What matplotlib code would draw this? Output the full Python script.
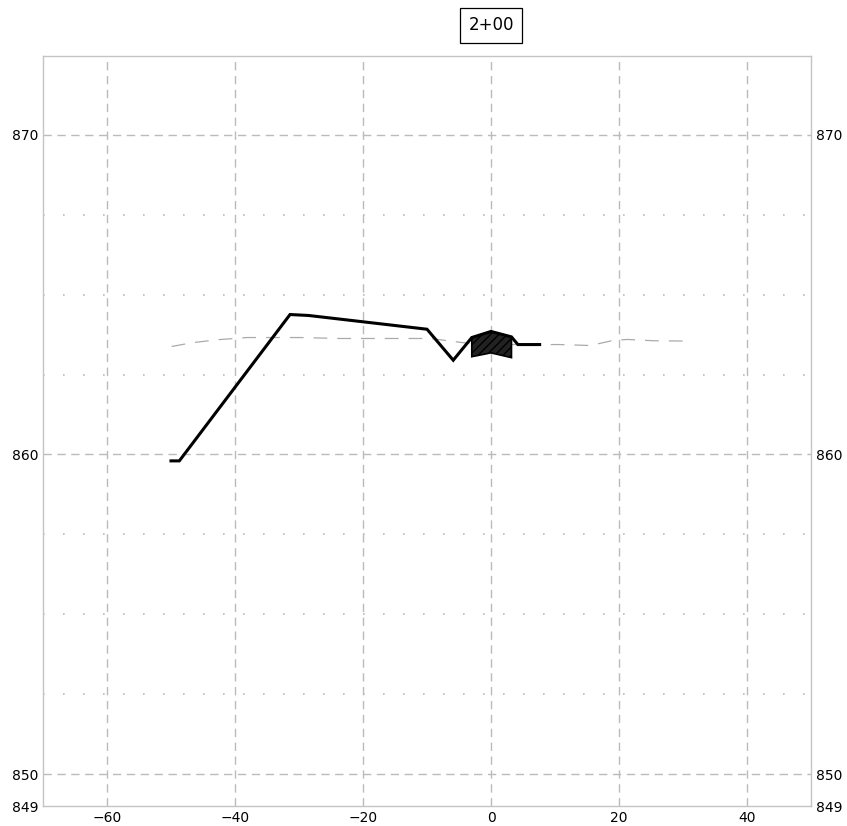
import matplotlib
matplotlib.use("Agg")
import matplotlib.pyplot as plt
from matplotlib.ticker import FixedLocator

plt.rcParams['hatch.color'] = '#555555'

# Data
ground_x = [-50.0, -48.7, -31.4, -28.5, -10.0, -5.9, -3.0, 0.0, 3.2, 4.2, 7.6]
ground_y = [859.8, 859.8, 864.38, 864.35, 863.92, 862.95, 863.66, 863.85, 863.68, 863.44, 863.44]

orig_x = [-49.9, -46.6, -42.8, -38.1, -29.8, -23.6, -9.5, -4.4, 0.0, 10.8, 15.5, 19.1, 21.3, 25.3, 30.0]
orig_y = [863.38, 863.5, 863.59, 863.66, 863.66, 863.63, 863.63, 863.5, 863.44, 863.44, 863.41, 863.57, 863.6, 863.56, 863.55]

struct_top_x = [-3.0, 0.0, 3.2]
struct_top_y = [863.66, 863.85, 863.68]
struct_bot_y = [863.06, 863.18, 863.03]

station_label = "2+00"
xticks = [-60, -40, -20, 0, 20, 40]
yticks = [849, 850, 860, 870]
yminor = [852.5, 855, 857.5, 862.5, 865, 867.5]

fig = plt.figure(figsize=(8.47, 8.26), dpi=100)
ax = fig.add_axes([43/847, 20/826, 768/847, 750/826])
ax.set_xlim(-70, 50)
ax.set_ylim(849, 872.47)

ax.set_xticks(xticks)
ax.set_yticks(yticks)
ax.yaxis.set_minor_locator(FixedLocator(yminor))
ax.tick_params(axis='both', which='both', length=0, labelsize=10, colors='black')
ax.tick_params(axis='y', labelright=True, right=True)
ax.tick_params(axis='y', which='minor', labelleft=False, labelright=False)

gridc = '#bbbbbb'
for x in xticks:
    ax.axvline(x, color=gridc, lw=1, linestyle=(0, (6, 4)), zorder=0)
for y in [850, 860, 870]:
    ax.axhline(y, color=gridc, lw=1, linestyle=(0, (6, 4)), zorder=0)
for y in yminor:
    ax.axhline(y, color=gridc, lw=1.2, linestyle=(0, (1, 11)), zorder=0)

for s in ax.spines.values():
    s.set_color('#c4c4c4')
    s.set_linewidth(1.0)

ax.plot(orig_x, orig_y, color='#aaaaaa', lw=0.9, linestyle=(0, (11, 8)), zorder=2)

# structure polygon
px = struct_top_x + struct_top_x[::-1]
py = struct_top_y + struct_bot_y[::-1]
ax.fill(px, py, facecolor='#222222', edgecolor='black', lw=1.2, hatch='////', zorder=3)

ax.plot(ground_x, ground_y, color='black', lw=2.2, solid_joinstyle='miter', zorder=4)

ax.text(0, 1.041, station_label, transform=ax.get_xaxis_transform(), ha='center', va='center',
        fontsize=12, bbox=dict(boxstyle='square,pad=0.5', facecolor='white', edgecolor='black', lw=0.9))

fig.savefig('out.png', dpi=100)
